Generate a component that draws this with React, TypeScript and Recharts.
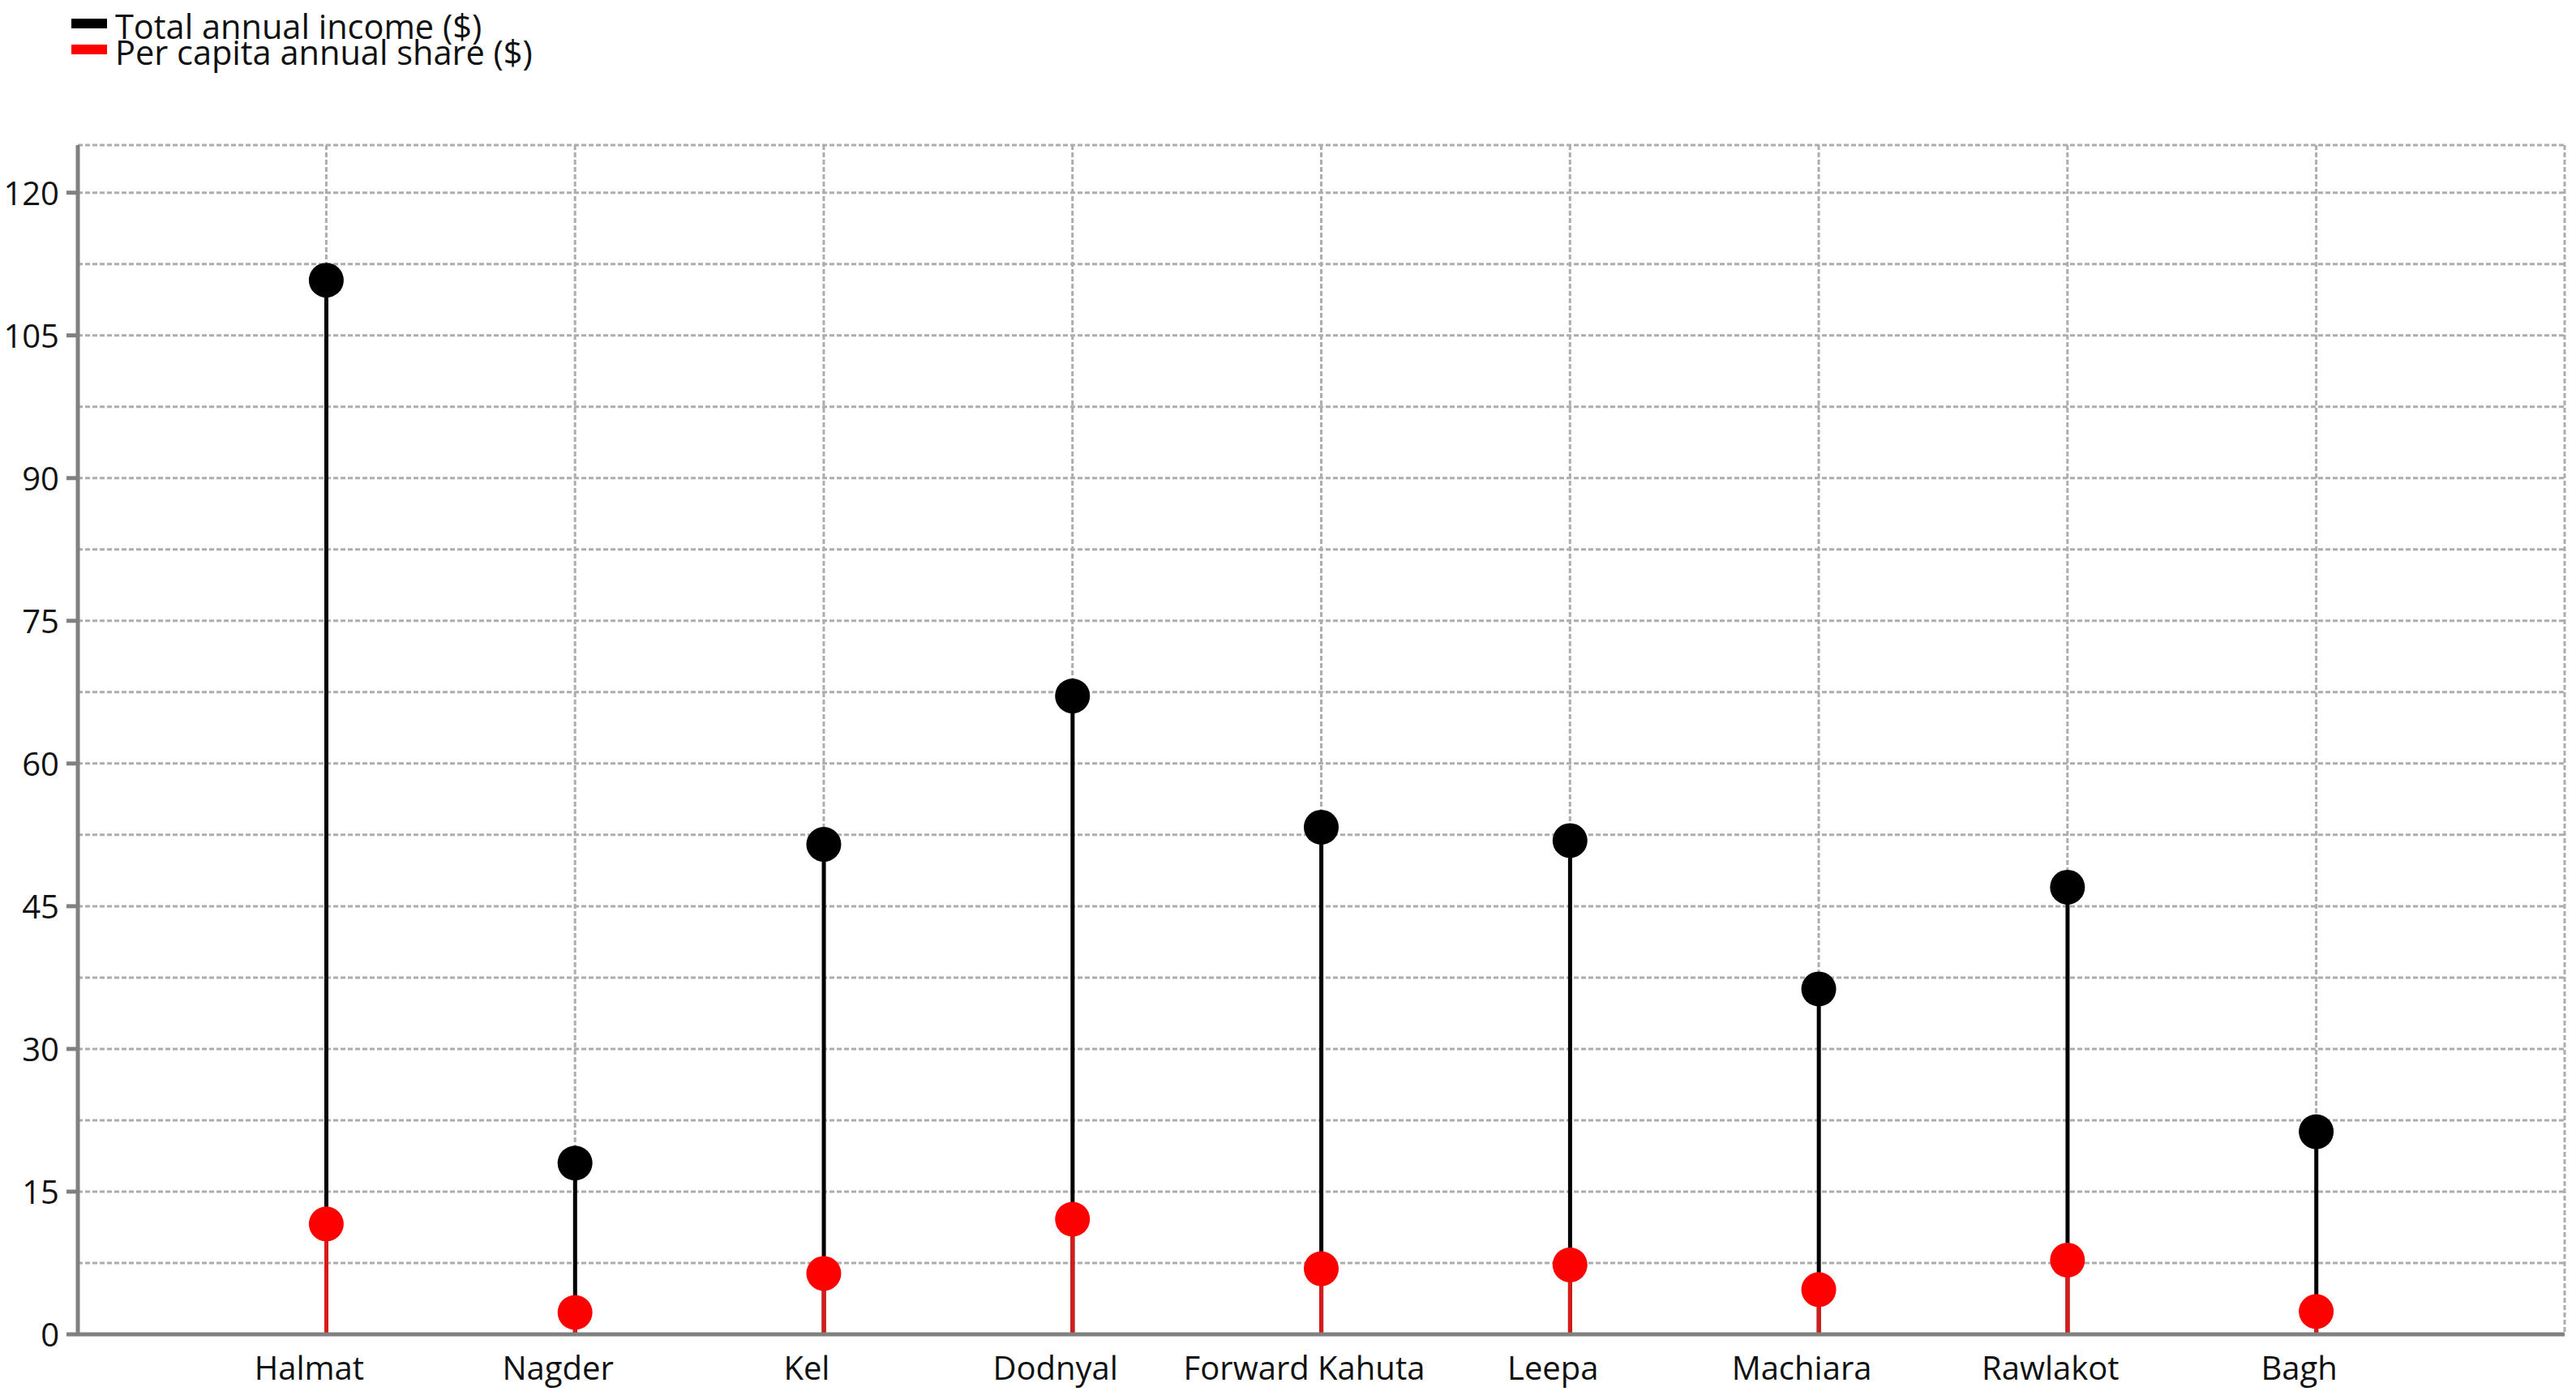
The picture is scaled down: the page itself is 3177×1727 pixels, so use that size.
import { ComposedChart, Bar, Line, XAxis, YAxis, CartesianGrid } from "recharts";

const villages = ["Halmat", "Nagder", "Kel", "Dodnyal", "Forward Kahuta", "Leepa", "Machiara", "Rawlakot", "Bagh"];
const totalIncome = [110.8, 18.0, 51.5, 67.1, 53.3, 51.9, 36.3, 47.0, 21.3];
const perCapita = [11.6, 2.3, 6.4, 12.1, 6.9, 7.3, 4.7, 7.8, 2.4];
const yTicks = [0, 7.5, 15, 22.5, 30, 37.5, 45, 52.5, 60, 67.5, 75, 82.5, 90, 97.5, 105, 112.5, 120];
const seriesNames = ["Total annual income ($)", "Per capita annual share ($)"];
const seriesColors = ["#000000", "#ff0000"];

const data = villages.map((name, i) => ({ name, total: totalIncome[i], perCapita: perCapita[i] }));

const FONT = "'Open Sans', sans-serif";
const FRAME = "#808080";

// thin bar drawn as a stem in the middle of the band
function Stem(color: string) {
  return (props: any) => {
    const { x, y, width, height } = props;
    if (height == null) return null;
    return <rect x={x + width / 2 - 2.5} y={y} width={5} height={height} fill={color} />;
  };
}

function YTick(props: any) {
  const { x, y, payload } = props;
  if (payload.value % 15 !== 0) return null;
  return (
    <g>
      <line x1={x - 14} x2={x} y1={y} y2={y} stroke={FRAME} strokeWidth={5} />
      <text x={x - 23} y={y + 15} textAnchor="end" fontFamily={FONT} fontSize={40} fill="#111">
        {payload.value}
      </text>
    </g>
  );
}

function XTick(props: any) {
  const { x, y, payload } = props;
  return (
    <text x={x - 21} y={y + 56} textAnchor="middle" fontFamily={FONT} fontSize={40} fill="#111">
      {payload.value}
    </text>
  );
}

export default function App() {
  return (
    <div style={{ position: "relative", width: 3169, height: 1711 }}>
      <ComposedChart
        width={3169}
        height={1711}
        data={data}
        barGap={-5}
        margin={{ top: 171, right: 14, bottom: 13, left: 8 }}
      >
        <CartesianGrid stroke="#adadad" strokeWidth={3} strokeDasharray="6 3" />
        <XAxis
          dataKey="name"
          padding={{ left: 153, right: 153 }}
          height={60}
          tickSize={0}
          tickMargin={0}
          tick={<XTick />}
          axisLine={{ stroke: FRAME, strokeWidth: 5 }}
          interval={0}
        />
        <XAxis
          xAxisId="top"
          orientation="top"
          dataKey="name"
          padding={{ left: 153, right: 153 }}
          height={0}
          tick={false}
          tickLine={false}
          axisLine={{ stroke: FRAME, strokeWidth: 5 }}
        />
        <YAxis
          domain={[0, 125]}
          ticks={yTicks}
          width={80}
          tickSize={0}
          tickMargin={0}
          tick={<YTick />}
          axisLine={{ stroke: FRAME, strokeWidth: 5 }}
          interval={0}
        />
        <YAxis
          yAxisId="right"
          orientation="right"
          domain={[0, 125]}
          width={0}
          tick={false}
          tickLine={false}
          axisLine={{ stroke: FRAME, strokeWidth: 5 }}
        />
        <Bar dataKey="total" barSize={5} shape={Stem("#000000")} isAnimationActive={false} />
        <Bar dataKey="perCapita" barSize={5} shape={Stem("#d81a1a")} isAnimationActive={false} />
        <Line
          dataKey="total"
          stroke="none"
          dot={{ r: 21.5, fill: "#000000", stroke: "none" }}
          activeDot={false}
          isAnimationActive={false}
        />
        <Line
          dataKey="perCapita"
          stroke="none"
          dot={{ r: 21.5, fill: "#ff0000", stroke: "none" }}
          activeDot={false}
          isAnimationActive={false}
        />
      </ComposedChart>
      <div style={{ position: "absolute", left: 80, top: 8, fontFamily: FONT, fontSize: 41.5, lineHeight: "32px", color: "#111" }}>
        {seriesNames.map((name, i) => (
          <div key={name} style={{ position: "relative", paddingLeft: 54, whiteSpace: "nowrap" }}>
            <span
              style={{
                position: "absolute",
                left: 0,
                top: 7,
                width: 44,
                height: 12,
                background: seriesColors[i],
              }}
            />
            {name}
          </div>
        ))}
      </div>
    </div>
  );
}
